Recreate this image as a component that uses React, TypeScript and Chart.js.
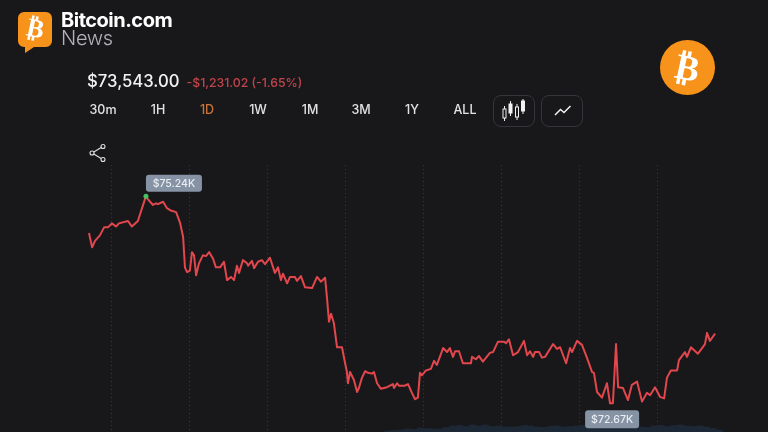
import React, { useEffect, useRef } from "react";
import { Chart, registerables } from "chart.js";

Chart.register(...registerables);

const hours = [0,.12,.23,.42,.58,.73,.88,1.04,1.15,1.5,1.65,1.88,2.04,2.19,2.27,2.46,2.58,2.65,2.85,3,3.15,3.35,3.5,3.62,3.69,3.77,3.88,3.96,4.04,4.12,4.23,4.38,4.5,4.62,4.77,4.88,5.04,5.19,5.31,5.46,5.58,5.69,5.77,5.92,6.08,6.12,6.27,6.35,6.5,6.65,6.77,6.96,7.15,7.27,7.38,7.46,7.62,7.73,7.92,8,8.15,8.31,8.58,8.77,8.92,9.08,9.15,9.23,9.31,9.42,9.54,9.73,9.85,9.92,9.96,10.04,10.19,10.31,10.38,10.5,10.62,10.73,10.88,10.96,11.08,11.23,11.46,11.69,11.73,11.85,11.92,12.15,12.27,12.42,12.54,12.65,12.73,12.81,12.96,13.15,13.27,13.38,13.62,13.77,13.88,14,14.08,14.23,14.38,14.69,14.73,14.88,15,15.15,15.42,15.54,15.73,15.96,16.04,16.15,16.31,16.5,16.73,16.85,16.96,17.08,17.15,17.31,17.42,17.54,17.85,18,18.12,18.35,18.5,18.58,18.77,18.96,19.15,19.35,19.42,19.54,19.73,19.92,20.04,20.15,20.27,20.35,20.54,20.73,20.88,21.08,21.27,21.46,21.58,21.77,21.96,22.12,22.23,22.38,22.62,22.69,22.92,23,23.15,23.42,23.58,23.69,23.77,23.88,24.08];

const prices = [74.78,74.6,74.68,74.75,74.85,74.85,74.9,74.86,74.9,74.93,74.86,74.93,75.09,75.24,75.2,75.13,75.15,75.14,75.17,75.09,75.06,75.04,74.91,74.73,74.35,74.29,74.31,74.54,74.5,74.25,74.4,74.5,74.49,74.54,74.46,74.35,74.35,74.42,74.19,74.23,74.19,74.37,74.28,74.44,74.4,74.37,74.43,74.34,74.42,74.44,74.39,74.47,74.28,74.35,74.19,74.27,74.15,74.23,74.23,74.18,74.24,74.1,74.09,74.23,74.17,74.22,73.98,73.67,73.77,73.65,73.35,73.35,73.15,73.04,72.9,73.04,72.94,72.79,72.84,72.97,73.05,73.03,73.02,73.04,72.9,72.83,72.85,72.89,72.84,72.9,72.87,72.87,72.89,72.78,72.7,72.72,73.03,73,73.06,73.08,73.18,73.13,73.34,73.29,73.34,73.23,73.3,73.3,73.15,73.15,73.23,73.2,73.24,73.17,73.28,73.29,73.42,73.42,73.4,73.45,73.25,73.29,73.43,73.25,73.3,73.23,73.29,73.29,73.22,73.23,73.39,73.33,73.35,73.15,73.34,73.29,73.43,73.38,73.22,73.04,73.03,72.79,72.72,72.9,72.65,72.65,73.39,72.85,72.84,72.69,72.88,72.92,72.67,72.78,72.75,72.85,72.73,72.71,72.97,73.06,73.06,73.19,73.29,73.23,73.35,73.27,73.34,73.39,73.53,73.43,73.52];

const gridHours = [0.85,3.85,6.85,9.85,12.85,15.85,18.85,21.85];

const volumeHours = [11.5,11.75,12,12.25,12.5,12.75,13,13.25,13.5,13.75,14,14.25,14.5,14.75,15,15.25,15.5,15.75,16,16.25,16.5,16.75,17,17.25,17.5,17.75,18,18.25,18.5,18.75,19,19.25,19.5,19.75,20,20.25,20.5,20.75,21,21.25,21.5,21.75,22,22.25,22.5,22.75,23,23.25,23.5,23.75,24,24.25];
const volumes = [10,15,20,30,25,40,35,30,30,45,60,65,55,70,60,70,55,60,50,50,55,65,60,50,45,55,60,50,55,60,65,70,55,50,45,60,70,60,60,50,45,60,65,55,65,70,60,55,60,50,35,20];

const peak = { hour: 2.19, price: 75.24, label: "$75.24K" };
const trough = { hour: 20.1, price: 72.65, label: "$72.67K" };

const ranges = ["30m", "1H", "1D", "1W", "1M", "3M", "1Y", "ALL"];
const rangeCenters = [103, 158, 207, 258, 310, 361, 412, 465];

const tagPlugin = {
  id: "priceTags",
  afterDatasetsDraw(chart: any) {
    const { ctx, scales } = chart;
    const drawTag = (cx: number, cy: number, w: number, h: number, text: string) => {
      ctx.save();
      ctx.fillStyle = "#8593a5";
      ctx.beginPath();
      ctx.roundRect(cx - w / 2, cy - h / 2, w, h, 3);
      ctx.fill();
      ctx.fillStyle = "#e9edf2";
      ctx.font = "500 10.5px Inter";
      ctx.textAlign = "center";
      ctx.textBaseline = "middle";
      ctx.fillText(text, cx, cy + 0.5);
      ctx.restore();
    };
    drawTag(scales.x.getPixelForValue(peak.hour) + 28, scales.y.getPixelForValue(peak.price) - 13, 56, 17, peak.label);
    drawTag(scales.x.getPixelForValue(trough.hour) + 0.5, scales.y.getPixelForValue(trough.price) + 16, 54, 18, trough.label);
  },
};

const abs = (left: number, top: number, extra: React.CSSProperties = {}): React.CSSProperties => ({
  position: "absolute",
  left,
  top,
  whiteSpace: "nowrap",
  fontFamily: "Inter, sans-serif",
  ...extra,
});

export default function App() {
  const ref = useRef<HTMLCanvasElement>(null);
  useEffect(() => {
    const chart = new Chart(ref.current as HTMLCanvasElement, {
      type: "line",
      data: {
        datasets: [
          {
            type: "line",
            data: [{ x: peak.hour, y: peak.price }],
            borderColor: "#46c463",
            backgroundColor: "#46c463",
            pointRadius: 2.5,
            pointBorderWidth: 0,
            showLine: false,
            order: 0,
          },
          {
            type: "line",
            data: hours.map((h, i) => ({ x: h, y: prices[i] })),
            borderColor: "#e2474d",
            borderWidth: 2,
            pointRadius: 0,
            tension: 0,
            borderJoinStyle: "round",
            order: 1,
          },
          {
            type: "bar",
            data: volumeHours.map((h, i) => ({ x: h, y: volumes[i] })),
            yAxisID: "volume",
            backgroundColor: "#1d2836",
            barThickness: 6.5,
            order: 2,
          },
        ],
      },
      options: {
        responsive: false,
        animation: false,
        layout: { autoPadding: false, padding: { top: 165, left: 0, right: 0, bottom: 0 } },
        plugins: { legend: { display: false }, tooltip: { enabled: false } },
        scales: {
          x: {
            type: "linear",
            min: -3.423,
            max: 26.115,
            offset: false,
            ticks: { display: false },
            afterBuildTicks: (scale: any) => {
              scale.ticks = gridHours.map((value) => ({ value }));
            },
            grid: { color: "#36363b", lineWidth: 1, drawTicks: false, tickLength: 0, offset: false },
            border: { display: false, dash: [1, 3] },
          } as any,
          y: { display: false, min: 72.29, max: 75.63 },
          volume: { display: false, min: 0, max: 2670 },
        },
      },
      plugins: [tagPlugin],
    } as any);
    return () => chart.destroy();
  }, []);

  return (
    <div style={{ position: "fixed", left: 0, top: 0, width: 768, height: 432, background: "#18181b", overflow: "hidden" }}>
      <canvas ref={ref} width={768} height={432} style={{ position: "absolute", left: 0, top: 0, width: 768, height: 432 }} />

      <svg style={{ position: "absolute", left: 16, top: 10 }} width={40} height={44}>
        <path d="M8 2h22a6 6 0 0 1 6 6v23a6 6 0 0 1-6 6H18l-9 6v-6H8a6 6 0 0 1-6-6V8a6 6 0 0 1 6-6z" fill="#f7931a" />
      </svg>
      <div style={abs(18, 9, { width: 35, height: 38, lineHeight: "38px", textAlign: "center", color: "#fff", fontFamily: "DejaVu Sans", fontWeight: 700, fontSize: 26, transform: "rotate(12deg)" })}>₿</div>
      <div style={abs(61, 8, { color: "#fff", fontWeight: 700, fontSize: 20, letterSpacing: -0.5, lineHeight: "24px" })}>Bitcoin.com</div>
      <div style={abs(61, 26, { color: "#b4b4b8", fontWeight: 300, fontSize: 20, letterSpacing: -0.3, lineHeight: "24px" })}>News</div>

      <div style={abs(87, 70, { color: "#f2f2f2", fontWeight: 500, fontSize: 16.7, lineHeight: "22px" })}>$73,543.00</div>
      <div style={abs(186.5, 74, { color: "#c2444b", fontWeight: 500, fontSize: 12.3, lineHeight: "17px" })}>-$1,231.02 (-1.65%)</div>

      {ranges.map((r, i) => (
        <div key={r} style={abs(rangeCenters[i] - 30, 102, { width: 60, textAlign: "center", color: r === "1D" ? "#c9733a" : "#e2e2e2", fontWeight: 500, fontSize: 12.5, lineHeight: "16px" })}>{r}</div>
      ))}

      <div style={{ position: "absolute", left: 493, top: 95, width: 40, height: 30, border: "1px solid #35353a", borderRadius: 8 }} />
      <div style={{ position: "absolute", left: 541, top: 95, width: 40, height: 30, border: "1px solid #35353a", borderRadius: 8 }} />
      <svg style={{ position: "absolute", left: 493, top: 95 }} width={42} height={32} fill="none" stroke="#f0f0f0" strokeWidth={1}>
        <rect x="10" y="14" width="3" height="9" /><path d="M11.5 11v3M11.5 23v3" />
        <rect x="16" y="9" width="3" height="9" fill="#f0f0f0" /><path d="M17.5 6v3M17.5 18v3" />
        <rect x="22.5" y="12" width="3" height="10" /><path d="M24 9v3M24 22v3" />
        <rect x="28.5" y="6" width="3" height="10" fill="#f0f0f0" /><path d="M30 4v2M30 16v3" />
      </svg>
      <svg style={{ position: "absolute", left: 541, top: 95 }} width={42} height={32} fill="none" stroke="#f0f0f0" strokeWidth={1.5}>
        <path d="M14 20l5.500-5.500 3.500 3 6.500-6.500" />
      </svg>

      <svg style={{ position: "absolute", left: 88, top: 143 }} width={20} height={20} fill="none" stroke="#e0e0e0" strokeWidth={1.1}>
        <circle cx="15" cy="3.500" r="2" /><circle cx="4" cy="10" r="2" /><circle cx="15" cy="16.500" r="2" />
        <path d="M13.200 4.500L5.800 9M5.800 11l7.400 4.500" />
      </svg>

      <div style={{ position: "absolute", left: 660, top: 40, width: 55, height: 55, borderRadius: "50%", background: "#f7931a" }} />
      <div style={abs(660, 40, { width: 55, height: 55, lineHeight: "55px", textAlign: "center", color: "#fff", fontFamily: "DejaVu Sans", fontWeight: 700, fontSize: 36, transform: "rotate(12deg)" })}>₿</div>
    </div>
  );
}
